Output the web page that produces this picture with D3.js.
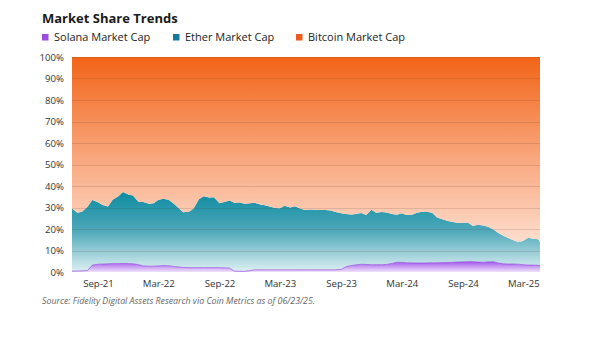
<!DOCTYPE html>
<html>
<head>
<meta charset="utf-8">
<script src="https://cdn.jsdelivr.net/npm/d3@7"></script>
<style>
  html, body { margin: 0; padding: 0; background: #fff; }
  svg { display: block; font-family: "Open Sans", sans-serif; }
</style>
</head>
<body>
<svg id="chart" width="600" height="344"></svg>
<script>
// semi-monthly observations, market share in %
var dates = [
  "2021-06-15","2021-07-01","2021-07-15","2021-08-01","2021-08-15","2021-09-01","2021-09-15","2021-10-01","2021-10-15","2021-11-01","2021-11-15","2021-12-01","2021-12-15",
  "2022-01-01","2022-01-15","2022-02-01","2022-02-15","2022-03-01","2022-03-15","2022-04-01","2022-04-15","2022-05-01","2022-05-15","2022-06-01","2022-06-15",
  "2022-07-01","2022-07-15","2022-08-01","2022-08-15","2022-09-01","2022-09-15","2022-10-01","2022-10-15","2022-11-01","2022-11-15","2022-12-01","2022-12-15",
  "2023-01-01","2023-01-15","2023-02-01","2023-02-15","2023-03-01","2023-03-15","2023-04-01","2023-04-15","2023-05-01","2023-05-15","2023-06-01","2023-06-15",
  "2023-07-01","2023-07-15","2023-08-01","2023-08-15","2023-09-01","2023-09-15","2023-10-01","2023-10-15","2023-11-01","2023-11-15","2023-12-01","2023-12-15",
  "2024-01-01","2024-01-15","2024-02-01","2024-02-15","2024-03-01","2024-03-15","2024-04-01","2024-04-15","2024-05-01","2024-05-15","2024-06-01","2024-06-15",
  "2024-07-01","2024-07-15","2024-08-01","2024-08-15","2024-09-01","2024-09-15","2024-10-01","2024-10-15","2024-11-01","2024-11-15","2024-12-01","2024-12-15",
  "2025-01-01","2025-01-15","2025-02-01","2025-02-15","2025-03-01","2025-03-15","2025-04-01","2025-04-15","2025-04-20"
];

var solana = [
  0.4,0.4,0.5,0.7,3.2,3.6,3.7,3.8,3.9,3.9,4.0,3.9,3.8,
  3.4,2.8,2.7,2.7,2.8,3.0,2.9,2.6,2.3,2.1,2.0,2.0,
  2.0,2.0,2.0,2.0,2.0,1.9,1.8,0.4,0.3,0.3,0.6,1.0,
  1.0,1.0,1.0,1.0,1.0,1.0,1.0,1.0,1.0,1.0,1.0,1.0,
  1.0,1.0,1.0,1.0,1.2,2.4,3.0,3.3,3.6,3.5,3.4,3.4,
  3.4,3.5,4.0,4.5,4.5,4.3,4.2,4.2,4.2,4.2,4.3,4.3,
  4.4,4.4,4.5,4.6,4.7,4.8,4.8,4.6,4.5,4.7,4.8,4.2,
  3.8,3.7,3.7,3.6,3.4,3.2,3.2,3.1,3.0
];

var ether = [
  29.1,27.2,27.5,29.8,30.3,28.9,27.5,26.7,29.7,31.3,33.2,32.1,31.8,
  29.2,29.8,29.1,29.3,30.7,31.1,30.7,29.4,27.5,25.7,26.0,27.5,
  31.8,33.2,32.6,32.8,30.0,30.7,31.4,31.8,32.0,31.5,31.4,31.2,
  30.4,30.0,29.4,28.8,28.6,29.8,29.0,29.6,28.5,27.8,28.1,28.0,
  27.8,27.8,27.6,26.9,26.1,24.6,23.8,23.7,23.9,23.0,25.6,24.2,
  24.5,24.2,23.0,22.1,22.8,22.2,22.4,23.4,23.8,23.9,23.1,21.1,
  20.1,19.4,18.8,18.3,18.1,18.2,16.6,17.4,17.1,16.3,15.0,14.0,
  13.0,12.1,10.9,10.2,11.1,12.7,12.3,12.1,11.0
];

var bitcoin = [
  70.5,72.4,72.0,69.5,66.5,67.5,68.8,69.5,66.4,64.8,62.8,64.0,64.4,
  67.4,67.4,68.2,68.0,66.5,65.9,66.4,68.0,70.2,72.2,72.0,70.5,
  66.2,64.8,65.4,65.2,68.0,67.4,66.8,67.8,67.7,68.2,68.0,67.8,
  68.6,69.0,69.6,70.2,70.4,69.2,70.0,69.4,70.5,71.2,70.9,71.0,
  71.2,71.2,71.4,72.1,72.7,73.0,73.2,73.0,72.5,73.5,71.0,72.4,
  72.1,72.3,73.0,73.4,72.7,73.5,73.4,72.4,72.0,71.9,72.6,74.6,
  75.5,76.2,76.7,77.1,77.2,77.0,78.6,78.0,78.4,79.0,80.2,81.8,
  83.2,84.2,85.4,86.2,85.5,84.1,84.5,84.9,86.0
];

var seriesNames = ["Solana Market Cap", "Ether Market Cap", "Bitcoin Market Cap"];
var seriesKeys = ["sol", "eth", "btc"];
var legendColors = ["#9b4de2", "#157a9e", "#ef5b1c"];
var xTickDates = ["2021-09-01","2022-03-01","2022-09-01","2023-03-01","2023-09-01","2024-03-01","2024-09-01","2025-03-01"];
var yTicks = [0, 0.1, 0.2, 0.3, 0.4, 0.5, 0.6, 0.7, 0.8, 0.9, 1];

var parseDate = d3.timeParse("%Y-%m-%d");

var rows = dates.map(function(d, i) {
  return { date: parseDate(d), sol: solana[i], eth: ether[i], btc: bitcoin[i] };
});

var svg = d3.select("#chart");

var margin = { top: 57, right: 60, bottom: 72, left: 72 },
    width = 600 - margin.left - margin.right,
    height = 344 - margin.top - margin.bottom;

var x = d3.scaleTime()
  .domain(d3.extent(rows, function(d) { return d.date; }))
  .range([0, width]);

var y = d3.scaleLinear().domain([0, 1]).range([height, 0]);

var stack = d3.stack().keys(seriesKeys).offset(d3.stackOffsetExpand);
var layers = stack(rows);

var area = d3.area()
  .x(function(d) { return x(d.data.date); })
  .y0(function(d) { return y(d[0]); })
  .y1(function(d) { return y(d[1]); });

// vertical fades, one per series
var defs = svg.append("defs");
var fades = [
  { id: "fadeSol", y1: 0.05, stops: ["#a052ea", "#c89cf3", "#efe2fb"] },
  { id: "fadeEth", y1: 0.38, stops: ["#0b8aa0", "#4fa9ba", "#dff0f3"] },
  { id: "fadeBtc", y1: 1, stops: ["#f26417", "#f9ab84", "#fff1ea"] }
];
fades.forEach(function(f) {
  var g = defs.append("linearGradient")
    .attr("id", f.id)
    .attr("gradientUnits", "userSpaceOnUse")
    .attr("x1", 0).attr("x2", 0)
    .attr("y1", y(f.y1)).attr("y2", y(0));
  g.selectAll("stop")
    .data(f.stops)
    .enter().append("stop")
    .attr("offset", function(d, i) { return i / (f.stops.length - 1); })
    .attr("stop-color", function(d) { return d; });
});

var plot = svg.append("g")
  .attr("transform", "translate(" + margin.left + "," + margin.top + ")");

plot.selectAll("path.layer")
  .data(layers)
  .enter().append("path")
  .attr("class", "layer")
  .attr("d", area)
  .attr("fill", function(d, i) { return "url(#" + fades[i].id + ")"; });

// thin edge along the top of the solana band
plot.append("path")
  .datum(layers[0])
  .attr("fill", "none")
  .attr("stroke", "#9446de")
  .attr("stroke-width", 0.7)
  .attr("d", d3.line()
    .x(function(d) { return x(d.data.date); })
    .y(function(d) { return y(d[1]); }));

// gridlines sit on top of the fills
plot.append("g")
  .selectAll("line")
  .data(yTicks)
  .enter().append("line")
  .attr("x1", 0)
  .attr("x2", width)
  .attr("y1", function(d) { return Math.round(y(d)) + 0.5; })
  .attr("y2", function(d) { return Math.round(y(d)) + 0.5; })
  .attr("stroke", "#5a3a2a")
  .attr("stroke-opacity", function(d) { return d === 0 ? 0 : 0.16; })
  .attr("stroke-width", 1);

var yAxis = d3.axisLeft(y)
  .tickValues(yTicks)
  .tickFormat(d3.format(".0%"))
  .tickSize(0)
  .tickPadding(8);

plot.append("g")
  .attr("class", "axis axis--y")
  .call(yAxis)
  .call(function(g) { g.select(".domain").remove(); })
  .selectAll("text")
  .attr("fill", "#333")
  .style("font-size", "9.6px");

var xAxis = d3.axisBottom(x)
  .tickValues(xTickDates.map(parseDate))
  .tickFormat(d3.timeFormat("%b-%y"))
  .tickSize(0)
  .tickPadding(8);

plot.append("g")
  .attr("class", "axis axis--x")
  .attr("transform", "translate(0," + height + ")")
  .call(xAxis)
  .call(function(g) { g.select(".domain").remove(); })
  .selectAll("text")
  .attr("fill", "#333")
  .style("font-size", "9.6px");

svg.selectAll(".axis text").style("font-family", "'Open Sans', sans-serif");

// title and legend
svg.append("text")
  .attr("x", 42)
  .attr("y", 23)
  .attr("fill", "#1a1a1a")
  .style("font-size", "13px")
  .style("font-weight", "700")
  .text("Market Share Trends");

var legendX = [42, 173, 296];
var legend = svg.append("g").selectAll("g")
  .data(seriesNames)
  .enter().append("g")
  .attr("transform", function(d, i) { return "translate(" + legendX[i] + ",34)"; });

legend.append("rect")
  .attr("width", 6.5)
  .attr("height", 6.5)
  .attr("fill", function(d, i) { return legendColors[i]; });

legend.append("text")
  .attr("x", 12)
  .attr("y", 7.2)
  .attr("fill", "#222")
  .style("font-size", "11px")
  .text(function(d) { return d; });

svg.append("text")
  .attr("x", 42)
  .attr("y", 304)
  .attr("fill", "#666")
  .style("font-size", "8.8px")
  .style("font-style", "italic")
  .text("Source: Fidelity Digital Assets Research via Coin Metrics as of 06/23/25.");
</script>
</body>
</html>
